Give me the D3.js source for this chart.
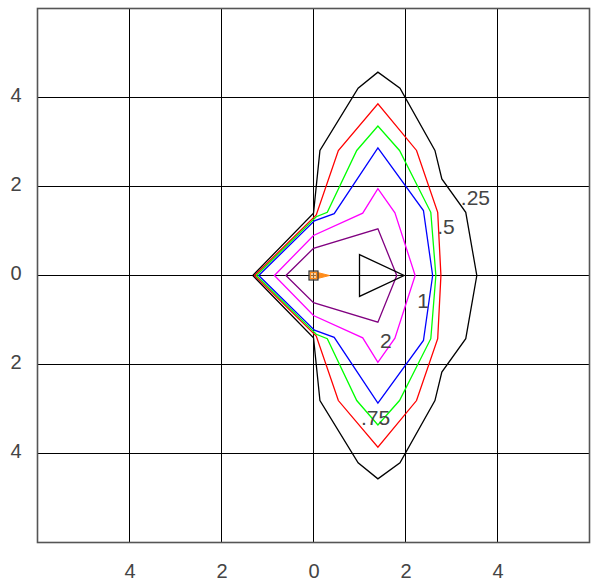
<!DOCTYPE html>
<html>
<head>
<meta charset="utf-8">
<script src="https://cdn.jsdelivr.net/npm/d3@7"></script>
<style>
  body { margin: 0; background: #fff; }
  svg { display: block; font-family: "Liberation Sans", Arial, sans-serif; }
</style>
</head>
<body>
<div id="chart"></div>
<script>
// grid / tick values
var gridValues = [-6, -4, -2, 0, 2, 4, 6];
var tickValues = [-4, -2, 0, 2, 4];

// contour lines, upper half (mirrored about y = 0)
var c25X = [-1.32, 0, 0.14, 0.97, 1.40, 1.88, 2.64, 2.79, 3.31, 3.55];
var c25Y = [0, 1.40, 2.81, 4.21, 4.57, 4.21, 2.81, 2.17, 1.42, 0];
var c50X = [-1.28, 0.06, 0.54, 1.40, 2.24, 2.70, 2.77];
var c50Y = [0, 1.36, 2.81, 3.86, 2.81, 1.42, 0];
var c75X = [-1.24, 0.06, 0.30, 0.94, 1.40, 1.87, 2.55, 2.66];
var c75Y = [0, 1.32, 1.42, 2.81, 3.36, 2.81, 1.42, 0];
var c1X = [-1.19, 0.02, 0.45, 1.40, 2.39, 2.59];
var c1Y = [0, 1.23, 1.39, 2.87, 1.46, 0];
var c2X = [-0.85, 0, 1.07, 1.40, 1.77, 2.21];
var c2Y = [0, 0.90, 1.40, 1.95, 1.41, 0];
var c4X = [-0.60, 0, 1.40, 1.81];
var c4Y = [0, 0.61, 1.05, 0];
var c8X = [1.0, 1.97];
var c8Y = [0.47, 0];

var contours = [
  {xs: c25X, ys: c25Y, color: "#000000"},
  {xs: c50X, ys: c50Y, color: "#ff0000"},
  {xs: c75X, ys: c75Y, color: "#00ff00"},
  {xs: c1X, ys: c1Y, color: "#0000ff"},
  {xs: c2X, ys: c2Y, color: "#ff00ff"},
  {xs: c4X, ys: c4Y, color: "#800080"},
  {xs: c8X, ys: c8Y, color: "#000000"}
];

// contour labels
var labelText = [".25", ".5", "1", "2", ".75"];
var labelX = [3.52, 2.88, 2.38, 1.57, 1.35];
var labelY = [1.75, 1.10, -0.56, -1.45, -3.18];

var width = 595, height = 581;

var svg = d3.select("#chart")
  .append("svg")
    .attr("width", width)
    .attr("height", height);

var x = d3.scaleLinear().domain([-6, 6]).range([37.5, 589.5]);
var y = d3.scaleLinear().domain([-6, 6]).range([542.5, 8.5]);

// grid
svg.append("g").selectAll("line.v")
  .data(gridValues.slice(1, -1))
  .enter().append("line")
    .attr("x1", function(d) { return x(d); })
    .attr("x2", function(d) { return x(d); })
    .attr("y1", y(6)).attr("y2", y(-6))
    .attr("stroke", "#000").attr("stroke-width", 1);

svg.append("g").selectAll("line.h")
  .data(gridValues.slice(1, -1))
  .enter().append("line")
    .attr("y1", function(d) { return y(d); })
    .attr("y2", function(d) { return y(d); })
    .attr("x1", x(-6)).attr("x2", x(6))
    .attr("stroke", "#000").attr("stroke-width", 1);

// small ticks on the axes through the origin
svg.append("g").selectAll("line")
  .data(gridValues)
  .enter().append("line")
    .attr("x1", x(0) - 10).attr("x2", x(0) + 10)
    .attr("y1", function(d) { return y(d); })
    .attr("y2", function(d) { return y(d); })
    .attr("stroke", "#000").attr("stroke-width", 1);
svg.append("g").selectAll("line")
  .data(gridValues)
  .enter().append("line")
    .attr("y1", y(0) - 10).attr("y2", y(0) + 10)
    .attr("x1", function(d) { return x(d); })
    .attr("x2", function(d) { return x(d); })
    .attr("stroke", "#000").attr("stroke-width", 1);

// frame
svg.append("rect")
  .attr("x", x(-6)).attr("y", y(6))
  .attr("width", x(6) - x(-6)).attr("height", y(-6) - y(6))
  .attr("fill", "none").attr("stroke", "#555").attr("stroke-width", 1.6);

// tick labels (drawn without minus signs, as in the original)
var xAxis = svg.append("g")
  .attr("transform", "translate(0," + y(-6) + ")")
  .call(d3.axisBottom(x).tickValues(tickValues).tickSize(0).tickPadding(21)
    .tickFormat(function(d) { return Math.abs(d); }));
var yAxis = svg.append("g")
  .attr("transform", "translate(" + x(-6) + ",0)")
  .call(d3.axisLeft(y).tickValues(tickValues).tickSize(0).tickPadding(16)
    .tickFormat(function(d) { return Math.abs(d); }));
svg.selectAll(".domain").remove();
svg.selectAll(".tick text")
  .style("font-family", "'Liberation Sans', Arial, sans-serif")
  .style("font-size", "20px")
  .attr("fill", "#444");
yAxis.selectAll(".tick text").attr("dy", "0.22em");

// contours
var line = d3.line()
  .x(function(d) { return x(d[0]); })
  .y(function(d) { return y(d[1]); });

contours.forEach(function(c) {
  var upper = c.xs.map(function(v, i) { return [v, c.ys[i]]; });
  var lower = upper.slice(0, -1).reverse().map(function(p) { return [p[0], -p[1]]; });
  var pts = upper.concat(lower);
  svg.append("path")
    .attr("d", line(pts) + "Z")
    .attr("fill", "none")
    .attr("stroke", c.color)
    .attr("stroke-width", 1.3)
    .attr("stroke-linejoin", "miter");
});

// contour labels
svg.append("g").selectAll("text")
  .data(labelText)
  .enter().append("text")
    .attr("x", function(d, i) { return x(labelX[i]); })
    .attr("y", function(d, i) { return y(labelY[i]); })
    .attr("dy", "0.36em")
    .attr("text-anchor", "middle")
    .style("font-size", "21px")
    .attr("fill", "#444")
    .text(function(d) { return d; });

// source marker at origin
svg.append("path")
  .attr("d", "M" + (x(0) + 4) + "," + (y(0) - 3) + " L" + (x(0) + 16) + "," + y(0) +
       " L" + (x(0) + 4) + "," + (y(0) + 3) + " Z")
  .attr("fill", "#ff8c1a").attr("stroke", "#ff8c1a").attr("stroke-width", 1);
svg.append("rect")
  .attr("x", x(0) - 4.5).attr("y", y(0) - 4.5)
  .attr("width", 9).attr("height", 9)
  .attr("fill", "#f7b060").attr("fill-opacity", 0.6)
  .attr("stroke", "#333").attr("stroke-width", 1.2);
svg.append("rect")
  .attr("x", x(0) - 3).attr("y", y(0) - 3)
  .attr("width", 6).attr("height", 6)
  .attr("fill", "none")
  .attr("stroke", "#ff8c1a").attr("stroke-width", 1);
</script>
</body>
</html>
